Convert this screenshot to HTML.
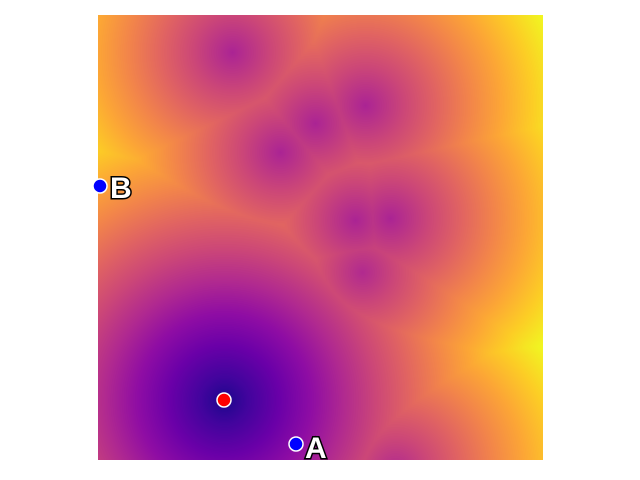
<!DOCTYPE html>
<html><head><meta charset="utf-8"><style>
html,body{margin:0;padding:0;background:#fff;width:640px;height:480px;overflow:hidden}
#wrap{position:relative;width:640px;height:480px}
canvas{position:absolute;left:98px;top:15px}
svg{position:absolute;left:0;top:0}
</style></head><body>
<div id="wrap">
<canvas id="heat" width="445" height="445"></canvas>
<svg width="640" height="480">
<circle id="red" cx="224" cy="400" r="7" fill="#ff0000" stroke="#fff" stroke-width="1.5"/>
<circle cx="296" cy="444" r="7" fill="#0000ff" stroke="#fff" stroke-width="1.5"/>
<circle cx="100" cy="186" r="7" fill="#0000ff" stroke="#fff" stroke-width="1.5"/>
<text x="305" y="458" font-family="Liberation Sans, sans-serif" font-size="30" font-weight="bold" fill="#fff" stroke="#000" stroke-width="3" paint-order="stroke">A</text>
<text x="110" y="198" font-family="Liberation Sans, sans-serif" font-size="30" font-weight="bold" fill="#fff" stroke="#000" stroke-width="3" paint-order="stroke">B</text>
</svg>
</div>
<script>
// centers in plot pixel coordinates (chart-local, 0..445)
const centerX = [126, 134, 217, 267, 182, 257, 292, 264, 297];
const centerY = [385, 37, 108, 90, 137, 205, 203, 257, 455];
const centerBase = [0.03, 0.38, 0.38, 0.38, 0.38, 0.38, 0.38, 0.4, 0.4];
const rate = 0.0031;
const plasma = ["#0d0887","#41049d","#6a00a8","#8f0da4","#b12a90","#cc4778","#e16462","#f2844b","#fca636","#fcce25","#f0f921"].map(h=>[parseInt(h.slice(1,3),16),parseInt(h.slice(3,5),16),parseInt(h.slice(5,7),16)]);
function cmap(v){v=Math.max(0,Math.min(1,v));const s=v*10,i=Math.min(9,Math.floor(s)),t=s-i;const a=plasma[i],b=plasma[i+1];return [a[0]+(b[0]-a[0])*t,a[1]+(b[1]-a[1])*t,a[2]+(b[2]-a[2])*t];}
const cv=document.getElementById('heat'),ctx=cv.getContext('2d');
const W=445,H=445,img=ctx.createImageData(W,H);
for(let y=0;y<H;y++)for(let x=0;x<W;x++){
  let m=1e9;
  for(let k=0;k<centerX.length;k++){const d=Math.hypot(x-centerX[k],y-centerY[k]);const v=centerBase[k]+d*rate;if(v<m)m=v;}
  const c=cmap(m),o=(y*W+x)*4;img.data[o]=c[0];img.data[o+1]=c[1];img.data[o+2]=c[2];img.data[o+3]=255;
}
ctx.putImageData(img,0,0);
</script>
</body></html>
